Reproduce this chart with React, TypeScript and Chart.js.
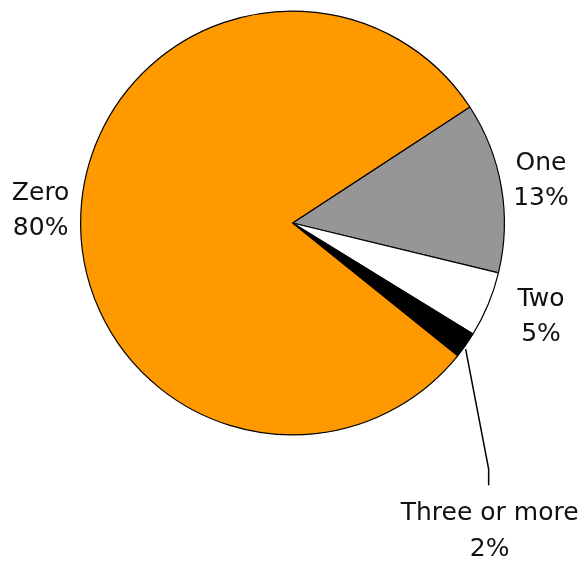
import React, { useEffect, useRef } from "react";
import { Chart, registerables } from "chart.js";

Chart.register(...registerables);

const categories = ["One", "Two", "Three or more", "Zero"];
const values = [13, 5, 2, 80];
const percentLabels = ["13%", "5%", "2%", "80%"];
const colors = ["#969696", "#FFFFFF", "#000000", "#FF9900"];

const labelPlugin = {
  id: "pieLabels",
  afterDatasetsDraw(chart: any) {
    const ctx = chart.ctx;
    const meta = chart.getDatasetMeta(0);
    ctx.save();
    ctx.font = "25px 'DejaVu Sans', sans-serif";
    ctx.fillStyle = "#111";
    ctx.textAlign = "center";
    ctx.textBaseline = "middle";
    meta.data.forEach((arc: any, i: number) => {
      const { x, y, startAngle, endAngle, outerRadius } = arc.getProps(
        ["x", "y", "startAngle", "endAngle", "outerRadius"],
        true
      );
      const mid = (startAngle + endAngle) / 2;
      const ex = x + Math.cos(mid) * outerRadius;
      const ey = y + Math.sin(mid) * outerRadius;
      if (categories[i] === "Three or more") {
        ctx.strokeStyle = "#000";
        ctx.lineWidth = 1.5;
        ctx.beginPath();
        ctx.moveTo(ex, ey + 4);
        ctx.lineTo(ex + 23, ey + 124);
        ctx.lineTo(ex + 23, ey + 140);
        ctx.stroke();
        ctx.fillText(categories[i], ex + 24, ey + 168);
        ctx.fillText(percentLabels[i], ex + 24, ey + 204);
      } else {
        const isTwo = categories[i] === "Two";
        const d = outerRadius * (isTwo ? 1.25 : 1.19);
        const lx = x + Math.cos(mid) * d + (isTwo ? 4 : 0);
        const ly = y + Math.sin(mid) * d + (isTwo ? -8 : 0);
        ctx.fillText(categories[i], lx, ly - 17);
        ctx.fillText(percentLabels[i], lx, ly + 18);
      }
    });
    ctx.restore();
  },
};

export default function App() {
  const ref = useRef<HTMLCanvasElement>(null);
  useEffect(() => {
    const chart = new Chart(ref.current!, {
      type: "pie",
      data: {
        labels: categories,
        datasets: [
          {
            data: values,
            backgroundColor: colors,
            borderColor: "#000000",
            borderWidth: 1.2,
          },
        ],
      },
      options: {
        responsive: false,
        animation: false,
        rotation: 56.8,
        layout: { padding: { left: 80, right: 81, top: 9, bottom: 127 } },
        plugins: {
          legend: { display: false },
          tooltip: { enabled: false },
        },
      },
      plugins: [labelPlugin],
    });
    return () => chart.destroy();
  }, []);
  return (
    <div style={{ position: "absolute", left: 0, top: 0, width: 586, height: 564, background: "#fff" }}>
      <canvas ref={ref} width={586} height={564} style={{ width: 586, height: 564 }} />
    </div>
  );
}
